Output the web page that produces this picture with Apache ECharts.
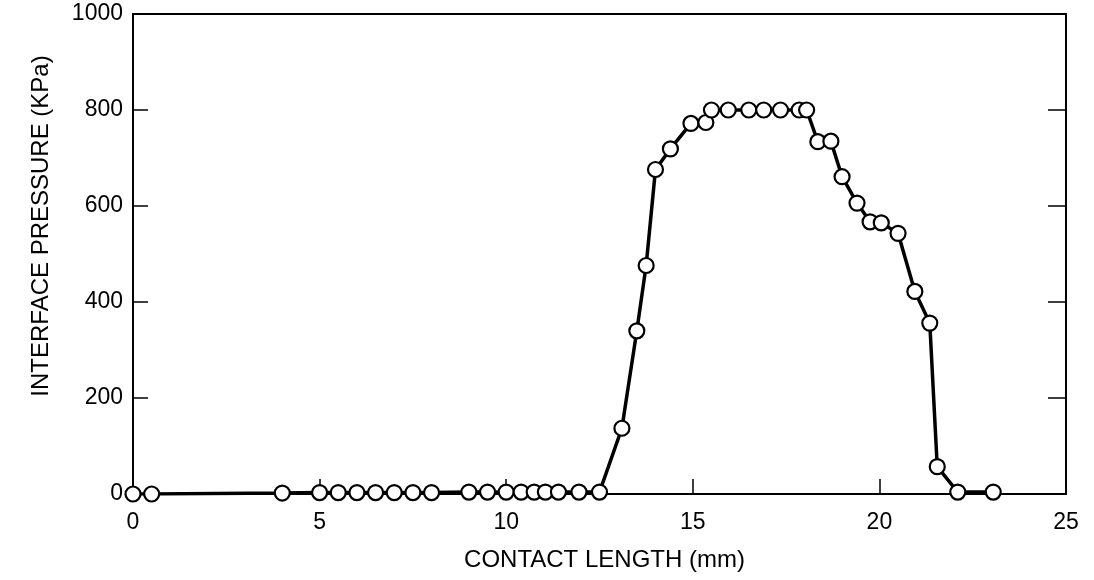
<!DOCTYPE html>
<html>
<head>
<meta charset="utf-8">
<script src="https://cdn.jsdelivr.net/npm/echarts@6/dist/echarts.min.js"></script>
<style>
html,body{margin:0;padding:0;background:#fff;}
#chart{width:1094px;height:580px;}
</style>
</head>
<body>
<div id="chart"></div>
<script>
const contactLength = [0, 0.5, 4, 5, 5.5, 6, 6.5, 7, 7.5, 8, 9, 9.5, 10, 10.4, 10.75, 11.05, 11.4, 11.95, 12.5,
  13.1, 13.5, 13.75, 14, 14.4, 14.95, 15.35, 15.5, 15.95, 16.5, 16.9, 17.35, 17.85, 18.05,
  18.35, 18.7, 19.0, 19.4, 19.75, 20.05, 20.5, 20.95, 21.35, 21.55, 22.1, 23.05];
const pressure = [0, 0, 2, 3, 3, 3, 3, 3, 3, 3, 4, 4, 4, 4, 4, 4, 4, 4, 4,
  137, 340, 476, 676, 719, 772, 774, 800, 800, 800, 800, 800, 800, 800,
  734, 735, 661, 606, 567, 565, 543, 422, 356, 57, 4, 4];
const xTicks = [0, 5, 10, 15, 20, 25];
const yTicks = [0, 200, 400, 600, 800, 1000];
const xName = 'CONTACT LENGTH (mm)';
const yName = 'INTERFACE PRESSURE (KPa)';

const font = 'Liberation Sans, Arial, sans-serif';
const chart = echarts.init(document.getElementById('chart'));
chart.setOption({
  animation: false,
  backgroundColor: '#fff',
  grid: { left: 133, right: 28, top: 14, bottom: 86, show: true, borderColor: '#000', borderWidth: 2, containLabel: false },
  xAxis: {
    type: 'value', min: xTicks[0], max: xTicks[xTicks.length - 1], interval: xTicks[1] - xTicks[0],
    name: xName, nameLocation: 'middle', nameGap: 54,
    nameTextStyle: { color: '#000', fontSize: 24, fontFamily: font, padding: [0, 0, 0, 10] },
    axisLine: { show: true, lineStyle: { color: '#000', width: 2 } },
    axisTick: { show: true, inside: true, length: 15, lineStyle: { color: '#000', width: 1.5 } },
    axisLabel: { color: '#000', fontSize: 23, fontFamily: font, margin: 17, formatter: v => String(v) },
    splitLine: { show: false }
  },
  yAxis: [{
    type: 'value', min: yTicks[0], max: yTicks[yTicks.length - 1], interval: yTicks[1] - yTicks[0],
    name: yName, nameLocation: 'middle', nameGap: 80,
    nameTextStyle: { color: '#000', fontSize: 24, fontFamily: font, padding: [0, 0, 0, 56] },
    axisLine: { show: true, lineStyle: { color: '#000', width: 2 } },
    axisTick: { show: true, inside: true, length: 15, lineStyle: { color: '#000', width: 1.5 } },
    axisLabel: { color: '#000', fontSize: 23, fontFamily: font, margin: 10, formatter: v => String(v) },
    splitLine: { show: false }
  }, {
    type: 'value', position: 'right', min: yTicks[0], max: yTicks[yTicks.length - 1], interval: yTicks[1] - yTicks[0],
    axisLine: { show: true, lineStyle: { color: '#000', width: 2 } },
    axisTick: { show: true, inside: true, length: 18, lineStyle: { color: '#000', width: 1.5 } },
    axisLabel: { show: false },
    splitLine: { show: false }
  }],
  series: [{
    type: 'line',
    data: contactLength.map((x, i) => [x, pressure[i]]),
    symbol: 'circle',
    symbolSize: 15,
    lineStyle: { color: '#000', width: 3.5 },
    itemStyle: { color: '#fff', borderColor: '#000', borderWidth: 2.2 },
    z: 5
  }]
});
</script>
</body>
</html>
